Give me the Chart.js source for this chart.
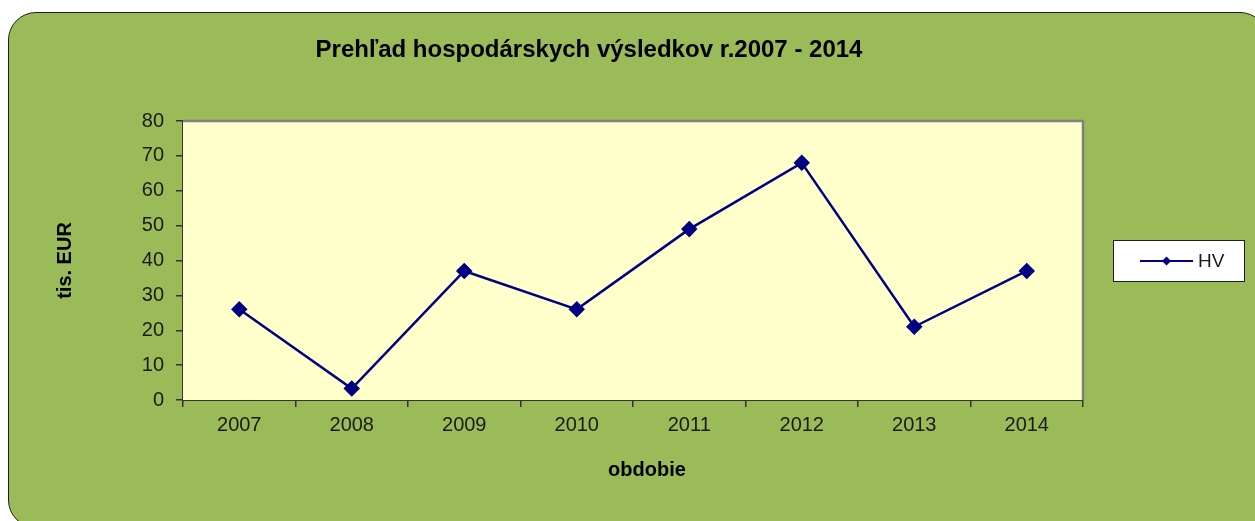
<!DOCTYPE html>
<html>
<head>
<meta charset="utf-8">
<script src="https://cdn.jsdelivr.net/npm/chart.js@4"></script>
<style>
  html, body { margin: 0; padding: 0; background: #fff; }
  #wrap { position: relative; width: 1255px; height: 521px; overflow: hidden; }
  #card {
    position: absolute; left: 8px; top: 12px; width: 1258px; height: 514px;
    background: #9bbb59; border: 1.5px solid #1e1e1e; border-radius: 28px;
  }
  #chart { position: absolute; left: 0; top: 0; }
</style>
</head>
<body>
<div id="wrap">
  <div id="card"></div>
  <canvas id="chart" width="1255" height="521"></canvas>
</div>
<script>
const years = ['2007', '2008', '2009', '2010', '2011', '2012', '2013', '2014'];
const hvValues = [26, 3.3, 37, 26, 49, 68, 21, 37];
const yTicks = [0, 10, 20, 30, 40, 50, 60, 70, 80];
const seriesName = 'HV';
const chartTitle = 'Prehľad hospodárskych výsledkov r.2007 - 2014';
const xAxisTitle = 'obdobie';

const FONT = '"Liberation Sans", Arial, sans-serif';
const NAVY = '#000080';

// plot background, gray top/right frame, titles and the boxed legend
const excelFrame = {
  id: 'excelFrame',
  beforeDatasetsDraw(chart) {
    const { ctx, chartArea: a } = chart;
    ctx.save();
    ctx.fillStyle = '#ffffcc';
    ctx.fillRect(a.left, a.top, a.right - a.left, a.bottom - a.top);
    ctx.strokeStyle = '#808080';
    ctx.lineWidth = 2.5;
    ctx.beginPath();
    ctx.moveTo(a.left, a.top);
    ctx.lineTo(a.right, a.top);
    ctx.lineTo(a.right, a.bottom);
    ctx.stroke();
    ctx.restore();
  },
  afterDraw(chart) {
    const { ctx } = chart;
    ctx.save();
    ctx.fillStyle = '#000';
    ctx.font = 'bold 24px ' + FONT;
    ctx.textAlign = 'center';
    ctx.textBaseline = 'middle';
    ctx.fillText(chartTitle, 589, 50);

    // x axis title sits a bit right of the plot centre, like the original
    ctx.font = 'bold 20px ' + FONT;
    ctx.fillText(xAxisTitle, 647, 470);

    // legend
    ctx.fillStyle = '#fff';
    ctx.fillRect(1113.5, 240.5, 131, 41);
    ctx.strokeStyle = '#1e1e1e';
    ctx.lineWidth = 1;
    ctx.strokeRect(1113.5, 240.5, 131, 41);
    ctx.strokeStyle = NAVY;
    ctx.lineWidth = 2;
    ctx.beginPath();
    ctx.moveTo(1140, 261);
    ctx.lineTo(1193, 261);
    ctx.stroke();
    ctx.fillStyle = NAVY;
    ctx.beginPath();
    ctx.moveTo(1166.5, 256.5);
    ctx.lineTo(1171, 261);
    ctx.lineTo(1166.5, 265.5);
    ctx.lineTo(1162, 261);
    ctx.closePath();
    ctx.fill();
    ctx.fillStyle = '#1a1a1a';
    ctx.font = '19px ' + FONT;
    ctx.textAlign = 'left';
    ctx.fillText(chart.data.datasets[0].label, 1198, 262);
    ctx.restore();
  }
};

new Chart(document.getElementById('chart'), {
  type: 'line',
  data: {
    labels: years,
    datasets: [{
      label: seriesName,
      data: hvValues,
      borderColor: NAVY,
      backgroundColor: NAVY,
      borderWidth: 2.5,
      pointStyle: 'rectRot',
      pointRadius: 6.5,
      pointHoverRadius: 6.5,
      tension: 0
    }]
  },
  options: {
    responsive: false,
    animation: false,
    events: [],
    layout: { padding: { left: 0, top: 121, right: 172, bottom: 0 } },
    plugins: {
      legend: { display: false },
      title: { display: false },
      tooltip: { enabled: false }
    },
    scales: {
      x: {
        type: 'category',
        offset: true,
        afterFit(scale) { scale.height = 121; },
        grid: { offset: true, drawOnChartArea: false, tickLength: 7, color: '#333', lineWidth: 1.5 },
        border: { color: '#333', width: 2 },
        ticks: { color: '#1a1a1a', font: { family: FONT, size: 20 }, padding: 6 }
      },
      y: {
        min: 0,
        max: 80,
        afterFit(scale) { scale.width = 183; },
        afterBuildTicks(scale) { scale.ticks = yTicks.map(v => ({ value: v })); },
        grid: { drawOnChartArea: false, tickLength: 7, color: '#333', lineWidth: 1.5 },
        border: { color: '#333', width: 2 },
        ticks: { color: '#1a1a1a', font: { family: FONT, size: 20 }, padding: 12 },
        title: {
          display: true, text: 'tis. EUR', color: '#000',
          font: { family: FONT, size: 20, weight: 'bold' },
          padding: { top: 53, bottom: 0 }
        }
      }
    }
  },
  plugins: [excelFrame]
});
</script>
</body>
</html>
